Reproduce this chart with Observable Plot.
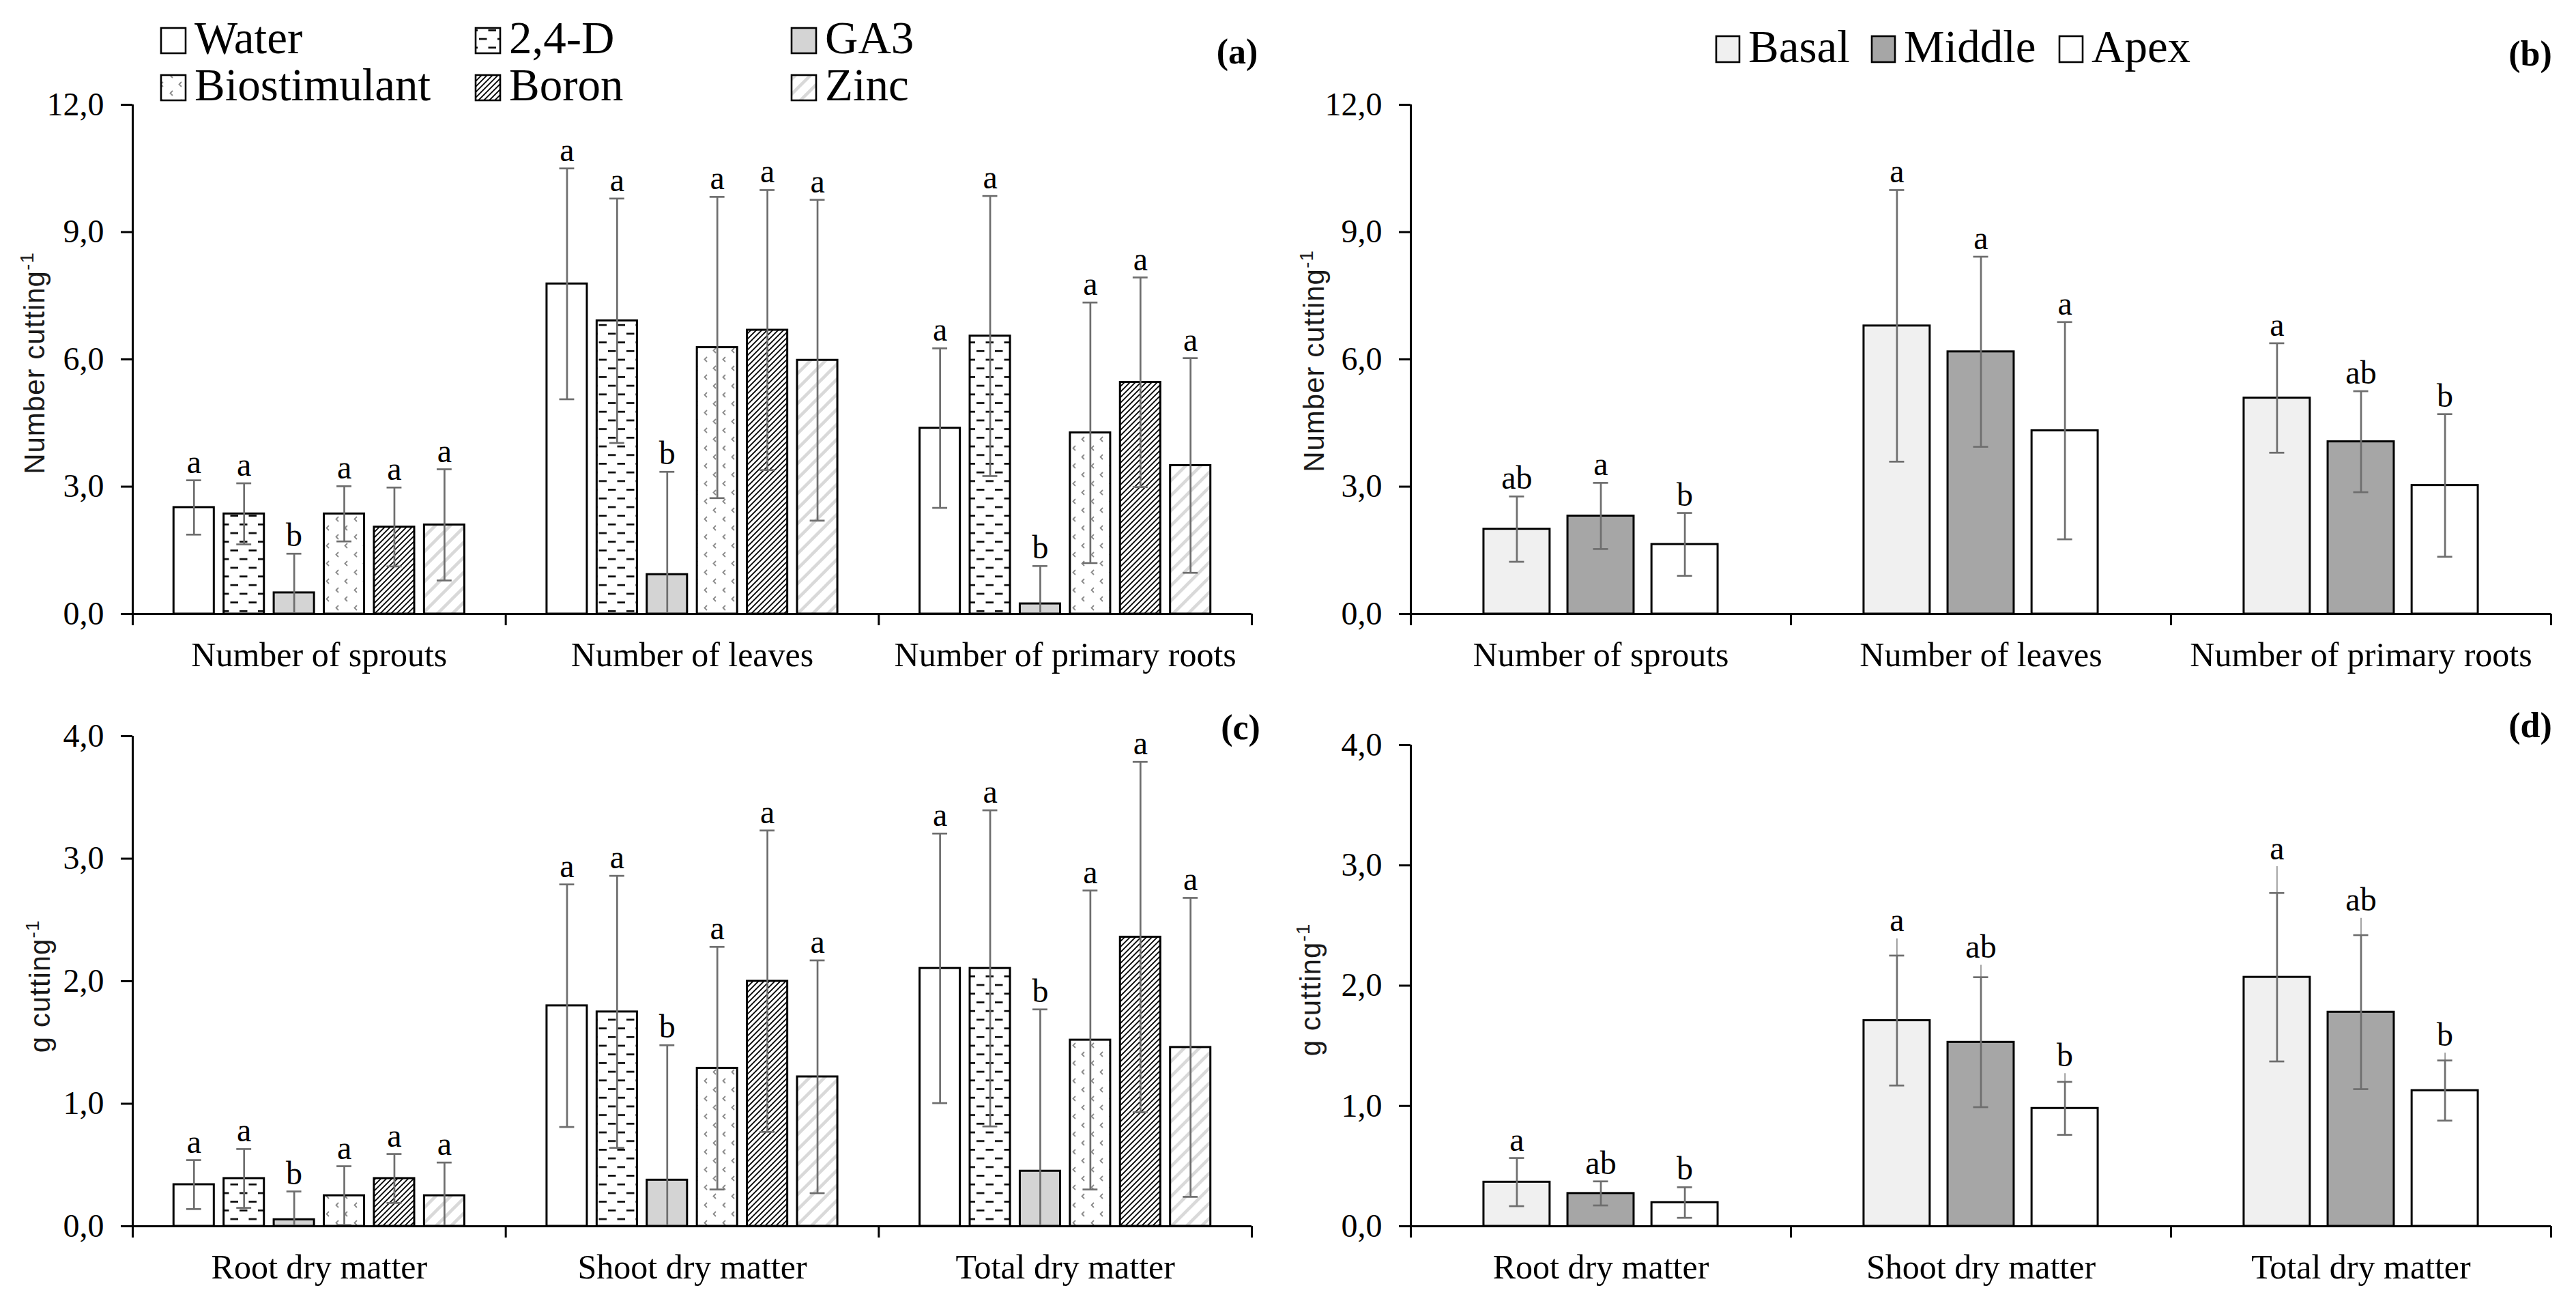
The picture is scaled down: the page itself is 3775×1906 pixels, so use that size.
<!DOCTYPE html>
<html>
<head>
<meta charset="utf-8">
<script src="https://cdn.jsdelivr.net/npm/d3@7"></script>
<script src="https://cdn.jsdelivr.net/npm/@observablehq/plot@0.6"></script>
<style>
  html, body { margin: 0; padding: 0; background: #fff; }
  #figure { position: relative; width: 3775px; height: 1906px; overflow: hidden; background: #fff; }
  .panel { position: absolute; }
  #overlay { position: absolute; left: 0; top: 0; pointer-events: none; }
</style>
</head>
<body>
<svg width="0" height="0" style="position:absolute">
  <defs>
    <pattern id="pDash" patternUnits="userSpaceOnUse" width="27" height="25.4">
      <rect width="27" height="25.4" fill="#fff"/>
      <rect x="0" y="5" width="11.5" height="2.6" fill="#000"/>
      <rect x="13.5" y="17.7" width="11.5" height="2.6" fill="#000"/>
    </pattern>
    <pattern id="pBio" patternUnits="userSpaceOnUse" width="27" height="26">
      <rect width="27" height="26" fill="#fff"/>
      <path d="M10 3 L6.5 6.5 L10 10" stroke="#8a8a8a" stroke-width="1.8" fill="none"/>
      <path d="M23 16 L19.5 19.5 L23 23" stroke="#8a8a8a" stroke-width="1.8" fill="none"/>
    </pattern>
    <pattern id="pBoron" patternUnits="userSpaceOnUse" width="8" height="8">
      <rect width="8" height="8" fill="#fff"/>
      <path d="M-2 2 L2 -2 M0 8 L8 0 M6 10 L10 6" stroke="#000" stroke-width="1.8"/>
    </pattern>
    <pattern id="pZinc" patternUnits="userSpaceOnUse" width="22" height="22">
      <rect width="22" height="22" fill="#fff"/>
      <path d="M-5.5 5.5 L5.5 -5.5 M0 22 L22 0 M16.5 27.5 L27.5 16.5" stroke="#d9d9d9" stroke-width="4.5"/>
    </pattern>
  </defs>
</svg>
<div id="figure"></div>
<script>
// ---------- data ----------
const groupsTop = ["Number of sprouts", "Number of leaves", "Number of primary roots"];
const groupsBottom = ["Root dry matter", "Shoot dry matter", "Total dry matter"];

const treatments = ["Water", "2,4-D", "GA3", "Biostimulant", "Boron", "Zinc"];
const treatmentFills = ["#ffffff", "url(#pDash)", "#d4d4d4", "url(#pBio)", "url(#pBoron)", "url(#pZinc)"];

const positions = ["Basal", "Middle", "Apex"];
const positionFills = ["#f0f0f0", "#a6a6a6", "#ffffff"];

// (a) treatments, number per cutting: mean and error, one row per group
const aMean = [
  [2.51, 2.36, 0.50, 2.36, 2.05, 2.10],
  [7.78, 6.91, 0.93, 6.28, 6.69, 5.98],
  [4.38, 6.55, 0.24, 4.27, 5.46, 3.50]
];
const aErr = [
  [0.64, 0.72, 0.92, 0.65, 0.93, 1.31],
  [2.72, 2.88, 2.42, 3.55, 3.30, 3.78],
  [1.88, 3.30, 0.89, 3.07, 2.47, 2.53]
];
const aLetters = [
  ["a", "a", "b", "a", "a", "a"],
  ["a", "a", "b", "a", "a", "a"],
  ["a", "a", "b", "a", "a", "a"]
];

// (b) cutting position, number per cutting
const bMean = [
  [2.00, 2.31, 1.64],
  [6.79, 6.18, 4.32],
  [5.09, 4.06, 3.03]
];
const bErr = [
  [0.77, 0.78, 0.74],
  [3.20, 2.24, 2.56],
  [1.29, 1.19, 1.68]
];
const bLetters = [
  ["ab", "a", "b"],
  ["a", "a", "a"],
  ["a", "ab", "b"]
];

// (c) treatments, dry matter (g per cutting)
const cMean = [
  [0.34, 0.39, 0.054, 0.25, 0.39, 0.25],
  [1.80, 1.75, 0.377, 1.29, 2.00, 1.22],
  [2.105, 2.105, 0.45, 1.52, 2.36, 1.46]
];
const cErr = [
  [0.20, 0.24, 0.23, 0.24, 0.20, 0.27],
  [0.99, 1.11, 1.10, 0.99, 1.23, 0.95],
  [1.10, 1.29, 1.32, 1.22, 1.43, 1.22]
];
const cLetters = [
  ["a", "a", "b", "a", "a", "a"],
  ["a", "a", "b", "a", "a", "a"],
  ["a", "a", "b", "a", "a", "a"]
];

// (d) cutting position, dry matter (g per cutting)
const dMean = [
  [0.367, 0.273, 0.197],
  [1.71, 1.53, 0.98],
  [2.07, 1.78, 1.128]
];
const dErr = [
  [0.20, 0.10, 0.127],
  [0.54, 0.54, 0.22],
  [0.70, 0.64, 0.25]
];
// upper end of the thin whisker drawn above some caps
const dUpper = [
  [null, null, null],
  [2.39, 2.17, 1.27],
  [2.99, 2.56, 1.44]
];
const dLetters = [
  ["a", "ab", "b"],
  ["a", "ab", "b"],
  ["a", "ab", "b"]
];

const ticksCount = [0, 3, 6, 9, 12];
const ticksMass = [0, 1, 2, 3, 4];

// ---------- helpers ----------
function rowsOf(groups, series, mean, err, letters, upper) {
  const rows = [];
  groups.forEach((g, gi) => series.forEach((s, si) => rows.push({
    group: g, gi, series: s, si,
    mean: mean[gi][si], err: err[gi][si], letter: letters[gi][si],
    upper: upper ? upper[gi][si] : null
  })));
  return rows;
}

const fmt = v => v.toFixed(1).replace(".", ",");
const ERR = "#6e6e6e";
const SERIF = "Liberation Serif, Times New Roman, serif";

function panel({rows, nSeries, step, barW, capW, yMax, yTicks, fills, groups, width, height, margins}) {
  const cx = d => d.gi + 0.5 + (d.si - (nSeries - 1) / 2) * step;
  const lo = d => Math.max(0, d.mean - d.err);
  const hi = d => d.mean + d.err;
  const top = d => Math.max(hi(d), d.upper ?? 0);
  return Plot.plot({
    width, height, ...margins,
    style: {fontFamily: SERIF, color: "#000", background: "transparent", overflow: "visible"},
    x: {domain: [0, 3]},
    y: {domain: [0, yMax]},
    marks: [
      Plot.rectY(rows, {
        x1: d => cx(d) - barW / 2, x2: d => cx(d) + barW / 2,
        y1: 0, y2: "mean",
        fill: d => fills[d.si], stroke: "#000", strokeWidth: 3
      }),
      Plot.ruleX(rows.filter(d => d.upper != null), {x: cx, y1: hi, y2: "upper", stroke: "#8c8c8c", strokeWidth: 1.6}),
      Plot.ruleX(rows, {x: cx, y1: lo, y2: hi, stroke: ERR, strokeWidth: 2.7}),
      Plot.ruleY(rows, {y: hi, x1: d => cx(d) - capW / 2, x2: d => cx(d) + capW / 2, stroke: ERR, strokeWidth: 2.7}),
      Plot.ruleY(rows.filter(d => d.mean - d.err > 0), {y: lo, x1: d => cx(d) - capW / 2, x2: d => cx(d) + capW / 2, stroke: ERR, strokeWidth: 2.7}),
      Plot.text(rows, {x: cx, y: top, text: "letter", dy: -11, lineAnchor: "bottom", fontSize: 48, fill: "#000"}),
      Plot.ruleX([0], {y1: 0, y2: yMax, strokeWidth: 3}),
      Plot.ruleY([0], {strokeWidth: 3}),
      Plot.axisY({ticks: yTicks, tickFormat: fmt, tickSize: 17, tickPadding: 25, fontSize: 48, strokeWidth: 3, label: null}),
      Plot.axisX({ticks: [0, 1, 2, 3], tickSize: 17, tickFormat: () => "", strokeWidth: 3, label: null}),
      Plot.axisX({ticks: [0.5, 1.5, 2.5], tickSize: 0, tickPadding: 41, tickFormat: v => groups[Math.floor(v)], fontSize: 50, label: null})
    ]
  });
}

// ---------- panels ----------
const fig = document.getElementById("figure");
function place(node, left, top) {
  node.classList.add("panel");
  node.style.left = left + "px";
  node.style.top = top + "px";
  fig.appendChild(node);
}

const treatLayout = {nSeries: 6, step: 0.1343, barW: 0.108, capW: 0.04, fills: treatmentFills, width: 1880};
const posLayout = {nSeries: 3, step: 0.221, barW: 0.174, capW: 0.0395, fills: positionFills, width: 1895};

place(panel({...treatLayout, rows: rowsOf(groupsTop, treatments, aMean, aErr, aLetters), yMax: 12, yTicks: ticksCount, groups: groupsTop,
  height: 1005, margins: {marginLeft: 194, marginRight: 46, marginTop: 153, marginBottom: 106}}), 0, 0);

place(panel({...posLayout, rows: rowsOf(groupsTop, positions, bMean, bErr, bLetters), yMax: 12, yTicks: ticksCount, groups: groupsTop,
  height: 1005, margins: {marginLeft: 187, marginRight: 37, marginTop: 153, marginBottom: 106}}), 1880, 0);

place(panel({...treatLayout, rows: rowsOf(groupsBottom, treatments, cMean, cErr, cLetters), yMax: 4, yTicks: ticksMass, groups: groupsBottom,
  height: 901, margins: {marginLeft: 194, marginRight: 46, marginTop: 73, marginBottom: 110}}), 0, 1005);

place(panel({...posLayout, rows: rowsOf(groupsBottom, positions, dMean, dErr, dLetters, dUpper), yMax: 4, yTicks: ticksMass, groups: groupsBottom,
  height: 901, margins: {marginLeft: 187, marginRight: 37, marginTop: 86, marginBottom: 110}}), 1880, 1005);

// ---------- legends, panel letters, axis titles ----------
const NS = "http://www.w3.org/2000/svg";
const ov = document.createElementNS(NS, "svg");
ov.setAttribute("id", "overlay");
ov.setAttribute("width", 3775);
ov.setAttribute("height", 1906);
fig.appendChild(ov);

function el(tag, attrs, parent = ov) {
  const e = document.createElementNS(NS, tag);
  for (const k in attrs) e.setAttribute(k, attrs[k]);
  parent.appendChild(e);
  return e;
}
function legendItem(x, y, w, h, fill, label) {
  el("rect", {x, y, width: w, height: h, fill, stroke: "#000", "stroke-width": 2.6});
  const t = el("text", {x: x + w + 13, y: y + h, "font-family": SERIF, "font-size": 67, fill: "#000"});
  t.textContent = label;
}
// treatments legend: two rows of three
const legCols = [236, 697, 1160];
const legRows = [41, 110];
treatments.forEach((t, i) => legendItem(legCols[i % 3], legRows[Math.floor(i / 3)], 36, 37, treatmentFills[i], t));
// cutting-position legend: one row
const posLegX = [2515, 2743, 3018];
positions.forEach((p, i) => legendItem(posLegX[i], 53, 34, 38, positionFills[i], p));

// panel letters
[["(a)", 1813, 93], ["(b)", 3708, 96], ["(c)", 1818, 1083], ["(d)", 3708, 1080]].forEach(([s, x, y]) => {
  const t = el("text", {x, y, "text-anchor": "middle", "font-family": SERIF, "font-size": 52, "font-weight": "bold", fill: "#000"});
  t.textContent = s;
});

// rotated y titles
function yTitle(main, x, y) {
  const t = el("text", {transform: `translate(${x},${y}) rotate(-90)`, "text-anchor": "middle",
    "font-family": "Liberation Sans, Arial, sans-serif", "font-size": 42, "letter-spacing": 1, fill: "#1a1a1a"});
  const a = el("tspan", {}, t); a.textContent = main;
  const b = el("tspan", {dy: -16, "font-size": 28}, t); b.textContent = "-1";
}
yTitle("Number cutting", 65, 532);
yTitle("Number cutting", 1940, 529);
yTitle("g cutting", 73, 1445);
yTitle("g cutting", 1935, 1450);
</script>
</body>
</html>
